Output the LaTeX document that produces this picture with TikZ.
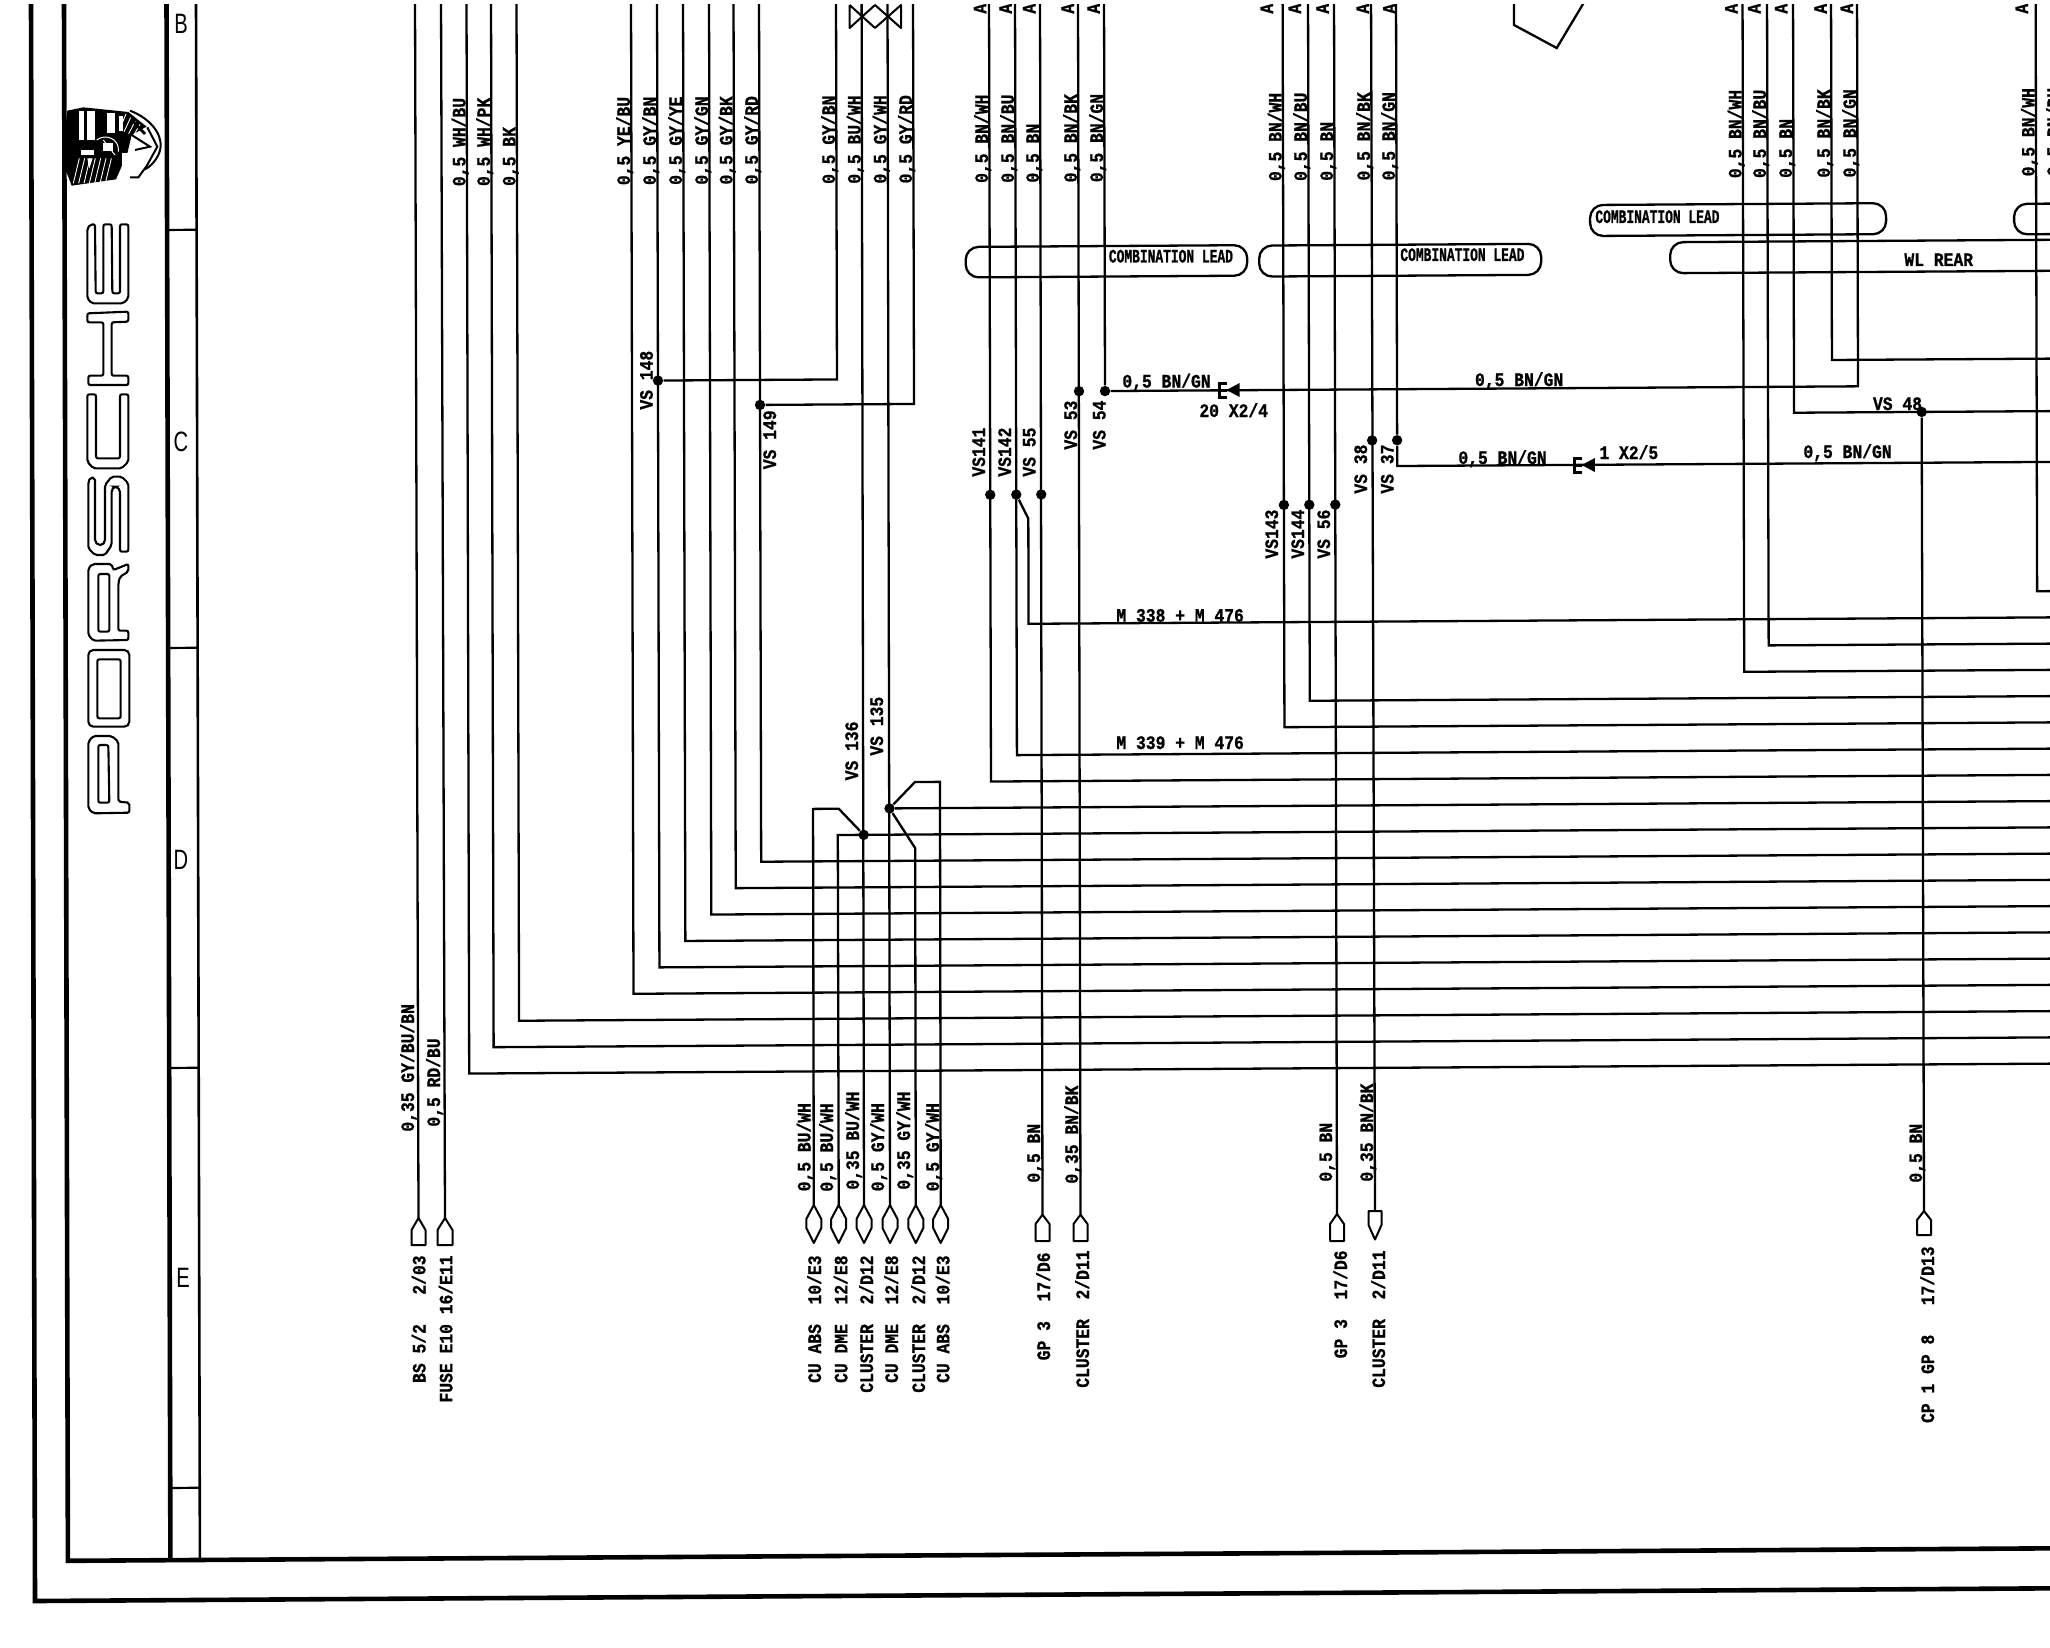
\documentclass[tikz,border=0pt]{standalone}
\usepackage{fontspec}
\usepackage{graphicx}
\setmainfont{Liberation Sans}
\newfontfamily\wf[FakeStretch=0.86,FakeBold=0.9]{Liberation Mono}
\newfontfamily\wn[FakeStretch=0.68,FakeBold=0.9]{Liberation Mono}
\newcounter{lb}
\tikzset{
  real/.style={x=0.5pt,y=-0.5pt},
  zoomed/.style={x=0.16667pt,y=-0.16667pt},
  wire/.style={line width=1.15pt,line join=miter,black},
  thinw/.style={line width=1pt,line join=round,black},
  heavy/.style={line width=2.3pt,black},
  logo/.style={line width=1.05pt,rounded corners=1pt,black},
  wl/.style={rotate=90,anchor=base west,inner sep=0pt,font=\wf\bfseries\fontsize{9.5pt}{10pt}\selectfont},
  wle/.style={rotate=90,anchor=base east,inner sep=0pt,font=\wf\bfseries\fontsize{9.5pt}{10pt}\selectfont},
  hl/.style={anchor=base west,inner sep=0pt,font=\wf\bfseries\fontsize{9.5pt}{10pt}\selectfont},
  cl/.style={anchor=base west,inner sep=0pt,font=\wn\bfseries\fontsize{9.5pt}{10pt}\selectfont},
  dot/.style={circle,fill=black,draw=none,inner sep=0pt,minimum size=5.2pt},
  rowl/.style={inner sep=0pt,font=\fontsize{14pt}{14pt}\selectfont}
}
\newcommand{\WL}[2]{\stepcounter{lb}\node[wl] (w\the\value{lb}) at ({#1-1.5},189.5) {#2};}
\newcommand{\RV}[3]{\stepcounter{lb}\node[wl] (r\the\value{lb}) at (#1,#2) {#3};}
\newcommand{\RE}[3]{\stepcounter{lb}\node[wle] (e\the\value{lb}) at (#1,#2) {#3};}
\newcommand{\RH}[3]{\stepcounter{lb}\node[hl] (h\the\value{lb}) at (#1,#2) {#3};}
\newcommand{\AM}[1]{\stepcounter{lb}\node[wl] (a\the\value{lb}) at ({#1+6},14) {A};}
% bus wire: from the top, turning right at height #3
\newcommand{\BUS}[3]{\coordinate (t#1) at (#2,-10);\coordinate (c#1) at (#2,#3);\coordinate (x#1) at (2085,#3);\draw[wire] (t#1) -- (c#1) -- (x#1);}
% lens connector, wire runs into its top tip
\newcommand{\LENS}[1]{\draw[thinw] (#1,1205) -- ({#1+7.5},1219) -- ({#1+7.5},1228) -- (#1,1243) -- ({#1-7.5},1228) -- ({#1-7.5},1219) -- cycle;}
\newcommand{\PUP}[5]{\draw[thinw] (#1,#2) -- ({#1+#5},#3) -- ({#1+#5},#4) -- ({#1-#5},#4) -- ({#1-#5},#3) -- cycle;}
\newcommand{\PLUG}[2]{%
  \draw[line width=1.5pt] ({#1+8},{#2-7}) -- ({#1+1},{#2-7}) -- ({#1+1},{#2+7}) -- ({#1+8},{#2+7});
  \draw[line width=1.5pt] ({#1+1},#2) -- ({#1+8},#2);
  \fill[black] ({#1+8},#2) -- ({#1+21},{#2-7}) -- ({#1+21},{#2+7}) -- cycle;}
\newcommand{\LEADBOX}[4]{\draw[line width=1.15pt,rounded corners=6.5pt] (#1,#2) -- (#3,#2) -- (#3,#4) -- (#1,#4) -- cycle;}
\begin{document}
\begin{tikzpicture}[x={(0.5pt,0.00315pt)},y={(0.00125pt,-0.5pt)}]
\path[use as bounding box,real,fill=white] (0,0) rectangle (2050,1648);
\clip[real] (0,5) rectangle (2050,1648);

% ---- sheet frame
\coordinate (fo1) at (31,-10);\coordinate (fo2) at (31,1601.2);\coordinate (fo3) at (2085,1601.2);
\coordinate (fi1) at (64,-10);\coordinate (fi2) at (64,1561.2);\coordinate (fi3) at (2085,1561.2);
\coordinate (ca1) at (166.5,-10);\coordinate (ca2) at (166.5,1561.2);
\coordinate (cb1) at (196,-10);\coordinate (cb2) at (196,1561.2);
\draw[heavy] (fo1) -- (fo2) -- (fo3);
\draw[heavy] (fi1) -- (fi2) -- (fi3);
\draw[heavy] (ca1) -- (ca2);
\draw[line width=1.3pt] (cb1) -- (cb2);
\foreach \n/\y in {1/231,2/649,3/1069,4/1489}{
  \coordinate (da\n) at (166.5,\y);\coordinate (db\n) at (196,\y);
  \draw[line width=1.1pt] (da\n) -- (db\n);}
\begin{scope}[real]
\node[rowl] (rowB) at (181,24) {\scalebox{0.72}[1]{B}};
\node[rowl] (rowC) at (181,442) {\scalebox{0.72}[1]{C}};
\node[rowl] (rowD) at (181,860) {\scalebox{0.72}[1]{D}};
\node[rowl] (rowE) at (183,1278) {\scalebox{0.72}[1]{E}};
\end{scope}

% ---- PORSCHE lettering, S R O P
\begin{scope}[zoomed,shift={(35pt,-235pt)}]
\draw[logo] (55,35)--(62,22)--(75,24)--(75,215)--(85,225)--(97,225)--(105,215)--(105,45)--(125,20)--(155,20)--(175,40)--(175,245)--(150,245)--(150,60)--(140,50)--(132,50)--(125,60)--(125,225)--(105,255)--(75,255)--(55,235)--cycle;
\draw[logo] (55,295)--(68,282)--(125,282)--(130,300)--(175,282)--(175,305)--(150,320)--(145,340)--(145,482)--(175,482)--(175,510)--(70,512)--(55,495)--cycle;
\draw[logo] (85,312)--(118,312)--(118,485)--(85,485)--cycle;
\draw[logo,rounded corners=2.5pt] (55,540)--(178,540)--(178,770)--(55,770)--cycle;
\draw[logo] (82,568)--(152,568)--(152,745)--(82,745)--cycle;
\draw[logo] (55,815)--(70,798)--(125,798)--(145,815)--(145,995)--(178,998)--(178,1028)--(70,1030)--(55,1015)--cycle;
\draw[logo] (85,825)--(115,825)--(118,998)--(85,998)--cycle;
\end{scope}
% ---- PORSCHE lettering, E H C
\begin{scope}[zoomed,shift={(35pt,-107.5pt)}]
\draw[logo] (52,40)--(62,28)--(75,28)--(77,235)--(100,235)--(100,28)--(125,28)--(127,235)--(150,235)--(150,28)--(175,28)--(175,250)--(160,265)--(65,265)--(52,250)--cycle;
\draw[logo] (52,295)--(175,290)--(175,320)--(125,322)--(125,482)--(175,482)--(175,510)--(55,510)--(55,482)--(100,482)--(100,322)--(52,322)--cycle;
\draw[logo] (52,538)--(78,538)--(78,730)--(150,730)--(150,538)--(175,538)--(175,740)--(155,760)--(70,760)--(52,740)--cycle;
\end{scope}
% ---- crest
\begin{scope}[zoomed,shift={(25pt,-45pt)}]
\fill[black] (52,62)--(100,52)--(235,66)--(290,110)--(245,135)--(232,190)--(198,268)--(65,287)--(47,240)--(42,150)--cycle;
\fill[white] (88,62) rectangle (102,150);
\fill[white] (112,62) rectangle (134,150);
\fill[white] (170,70) rectangle (195,130);
\fill[white] (207,78) rectangle (220,122);
\fill[white] (92,180) rectangle (132,194);
\fill[white] (160,160) rectangle (190,182);
\fill[white] (217,190) rectangle (240,262);
\fill[white] (112,205) -- (128,205) -- (118,235) -- cycle;
\foreach \d in {0,16,...,96}{
  \draw[white,line width=0.45pt] ({70+\d},280) -- ({88+\d},205);}
\foreach \d in {0,14,...,56}{
  \draw[white,line width=0.45pt] ({228+\d},{72+0.75*\d}) -- ({208+\d},{120+0.4*\d});}
\draw[white,line width=0.5pt] (140,150) .. controls (165,130) and (210,145) .. (205,185);
\draw[white,line width=0.5pt] (160,150) -- (195,195);
\draw[line width=1pt] (240,62) .. controls (300,85) and (335,130) .. (332,170) .. controls (330,195) and (310,225) .. (285,238);
\draw[line width=1pt] (292,112) -- (322,170) -- (290,228) -- (265,262) -- (240,262);
\draw[line width=1pt] (245,135) -- (300,170) -- (255,180);
\draw[line width=1.4pt] (245,90) -- (285,132);
\end{scope}

% ---- wires that run from the top into the bus
\BUS{b1}{466.5}{1076.5}
\BUS{b2}{491}{1050.25}
\BUS{b3}{516.5}{1024}
\BUS{b4}{631}{997.75}
\BUS{b5}{657}{971.5}
\BUS{b6}{683}{945.25}
\BUS{b7}{709}{919}
\BUS{b8}{733.5}{892.75}
\BUS{b9}{759}{866.5}
\BUS{b11}{989}{787.75}
\BUS{b12}{1015}{761.5}
\BUS{b13}{1282.6}{735.25}
\BUS{b14}{1308}{709}
\BUS{b15}{1742.5}{682.75}
\BUS{b16}{1767}{656.5}
\BUS{b18}{2035.6}{604}
\BUS{b19}{1793}{424}
\BUS{b20}{1831}{371.5}

% ---- junctions
\node[dot] (vs148) at (657,384.7) {};
\node[dot] (vs149) at (759,409.7) {};
\node[dot] (vs135) at (887.5,814) {};
\node[dot] (vs136) at (861.6,840.25) {};
\node[dot] (vs141) at (989,501) {};
\node[dot] (vs142) at (1015,501) {};
\node[dot] (vs55) at (1040,501) {};
\node[dot] (vs53) at (1078,398) {};
\node[dot] (vs54) at (1104,398) {};
\node[dot] (vs143) at (1282.6,513) {};
\node[dot] (vs144) at (1308,513) {};
\node[dot] (vs56) at (1334,513) {};
\node[dot] (vs38) at (1371,449) {};
\node[dot] (vs37) at (1396,449) {};
\node[dot] (vs48) at (1920.6,424) {};

% ---- connector tips at the bottom
\begin{scope}[real]
\coordinate (k1) at (418.5,1218);\coordinate (k2) at (445,1218);
\coordinate (k3) at (813.8,1205);\coordinate (k4) at (838.7,1205);\coordinate (k5) at (864,1205);
\coordinate (k6) at (890,1205);\coordinate (k7) at (915.8,1205);\coordinate (k8) at (940.7,1205);
\coordinate (k9) at (1042.5,1214.6);\coordinate (k10) at (1080.5,1214.6);
\coordinate (k11) at (1337,1214);\coordinate (k12) at (1375,1211);\coordinate (k13) at (1924,1211);
\LENS{813.8}\LENS{838.7}\LENS{864}\LENS{890}\LENS{915.8}\LENS{940.7}
\PUP{418.5}{1218}{1230}{1245}{7}
\PUP{445}{1218}{1230}{1245}{7.5}
\PUP{1042.5}{1214.6}{1224}{1241}{7}
\PUP{1080.5}{1214.6}{1224}{1241}{7}
\PUP{1337}{1214}{1224}{1241}{7}
\PUP{1924}{1211}{1220}{1235}{7}
\draw[thinw] (1368.5,1211) -- (1381.5,1211) -- (1381.5,1225) -- (1375,1239.5) -- (1368.5,1225) -- cycle;
\PLUG{1218.6}{390}
\PLUG{1573.8}{465}
\end{scope}

% ---- straight wires ending at the bottom
\foreach \n/\x in {1/415,2/441,6/887.5,5/861.6,9/1040,10/1078,11/1334,12/1371}{
  \coordinate (s\n) at (\x,-10);
  \draw[wire] (s\n) -- (k\n);}
% VS 148, VS 149 feeders
\coordinate (u1) at (836,-10);\coordinate (u1c) at (836,384.7);
\draw[wire] (u1) -- (u1c) -- (vs148);
\coordinate (u2) at (913,-10);\coordinate (u2c) at (913,409.7);
\draw[wire] (u2) -- (u2c) -- (vs149);
% VS 54 to BN/GN
\coordinate (u3) at (1104,-10);\coordinate (u4) at (1857,-10);\coordinate (u4c) at (1857,398);
\draw[wire] (u3) -- (vs54);
\draw[wire] (vs54) -- (u4c) -- (u4);
% VS 37
\coordinate (u5) at (1396,-10);\coordinate (u5c) at (1396,474.8);\coordinate (u5x) at (2085,474.8);
\draw[wire] (u5) -- (vs37) -- (u5c) -- (u5x);
% VS 48 drop
\draw[wire] (vs48) -- (k13);
% VS 55 jog
\coordinate (j1) at (1027,525);\coordinate (j2) at (1027,630.25);\coordinate (j3) at (2085,630.25);
\draw[wire] (vs142) -- (j1) -- (j2) -- (j3);
% VS 135 fan
\coordinate (j4) at (913,787.75);\coordinate (j5) at (938,787.75);
\draw[wire] (vs135) -- (j4) -- (j5) -- (k8);
\coordinate (j6) at (913,853.8);
\draw[wire] (vs135) -- (j6) -- (k7);
\coordinate (j7) at (2085,814);
\draw[wire] (vs135) -- (j7);
% VS 136 fan
\coordinate (j8) at (836.7,814);\coordinate (j9) at (811,814);
\draw[wire] (vs136) -- (j8) -- (j9) -- (k3);
\coordinate (j10) at (835.7,840.25);\coordinate (j11) at (2085,840.25);
\draw[wire] (k4) -- (j10) -- (j11);

% ---- crossed marks at the top
\begin{scope}[real]
\coordinate (m1) at (849.6,5);\coordinate (m2) at (849.6,28);\coordinate (m3) at (875,5);
\coordinate (m4) at (875,28);\coordinate (m5) at (901,5);\coordinate (m6) at (901,28);
\draw[thinw] (m1) -- (m2) -- (m3) -- (m6) -- (m5) -- (m4) -- (m1);
\coordinate (p1) at (1514,-5);\coordinate (p2) at (1514,25);\coordinate (p3) at (1556.7,48);\coordinate (p4) at (1588.4,-5);
\draw[wire] (p1) -- (p2) -- (p3) -- (p4);
\end{scope}

% ---- harness outlines
\LEADBOX{965}{253}{1246.5}{283.5}
\LEADBOX{1258.5}{253.5}{1540.5}{284.5}
\LEADBOX{1589.5}{215}{1885.5}{246}
\LEADBOX{1669.5}{252.7}{2100}{283.7}
\LEADBOX{2013.5}{216.5}{2140}{247}

% ---- wire labels at the top
\WL{466.5}{0,5 WH/BU}
\WL{491}{0,5 WH/PK}
\WL{516.5}{0,5 BK}
\WL{631}{0,5 YE/BU}
\WL{657}{0,5 GY/BN}
\WL{683}{0,5 GY/YE}
\WL{709}{0,5 GY/GN}
\WL{733.5}{0,5 GY/BK}
\WL{759}{0,5 GY/RD}
\WL{836}{0,5 GY/BN}
\WL{861.6}{0,5 BU/WH}
\WL{887.5}{0,5 GY/WH}
\WL{913}{0,5 GY/RD}
\WL{989}{0,5 BN/WH}
\WL{1015}{0,5 BN/BU}
\WL{1040}{0,5 BN}
\WL{1078}{0,5 BN/BK}
\WL{1104}{0,5 BN/GN}
\WL{1282.6}{0,5 BN/WH}
\WL{1308}{0,5 BN/BU}
\WL{1334}{0,5 BN}
\WL{1371}{0,5 BN/BK}
\WL{1396}{0,5 BN/GN}
\WL{1742.5}{0,5 BN/WH}
\WL{1767}{0,5 BN/BU}
\WL{1793}{0,5 BN}
\WL{1831}{0,5 BN/BK}
\WL{1857}{0,5 BN/GN}
\WL{2035.6}{0,5 BN/WH}
\WL{2061}{0,5 BN/BU}

\begin{scope}[real]
% clipped letters along the top edge
\AM{980.4}\AM{1005.8}\AM{1029.5}\AM{1068}\AM{1093.8}
\AM{1267}\AM{1295}\AM{1322.8}\AM{1363}\AM{1389.7}
\AM{1731.7}\AM{1754.5}\AM{1781.4}\AM{1820.8}\AM{1847}\AM{2022}

% harness names
\node[cl] (cl1) at (1108.5,262.5) {COMBINATION LEAD};
\node[cl] (cl2) at (1400,261) {COMBINATION LEAD};
\node[cl] (cl3) at (1595,223) {COMBINATION LEAD};
\node[hl] (wlrear) at (1904,266) {WL REAR};

% junction names
\RV{652.7}{410}{VS 148}
\RV{776}{469.6}{VS 149}
\RV{985}{477}{VS141}
\RV{1011}{477}{VS142}
\RV{1035.5}{477}{VS 55}
\RV{1077}{450}{VS 53}
\RV{1105.5}{450}{VS 54}
\RV{1278}{559}{VS143}
\RV{1304}{559}{VS144}
\RV{1330}{559}{VS 56}
\RV{1367}{494}{VS 38}
\RV{1393.5}{494}{VS 37}
\RV{883}{756}{VS 135}
\RV{858}{780.7}{VS 136}
\RH{1872.6}{410}{VS 48}

% horizontal labels
\RH{1122}{387.5}{0,5 BN/GN}
\RH{1474.6}{386}{0,5 BN/GN}
\RH{1458}{464}{0,5 BN/GN}
\RH{1803}{458}{0,5 BN/GN}
\RH{1199}{417}{20 X2/4}
\RH{1599}{459}{1 X2/5}
\RH{1116}{621.7}{M 338 + M 476}
\RH{1116}{749}{M 339 + M 476}

% wire labels at the bottom
\RV{414}{1132}{0,35 GY/BU/BN}
\RV{440}{1127}{0,5 RD/BU}
\RV{810.5}{1191.7}{0,5 BU/WH}
\RV{833}{1192}{0,5 BU/WH}
\RV{859}{1190}{0,35 BU/WH}
\RV{884}{1191.7}{0,5 GY/WH}
\RV{910}{1190}{0,35 GY/WH}
\RV{939}{1191.7}{0,5 GY/WH}
\RV{1040}{1183}{0,5 BN}
\RV{1078}{1184}{0,35 BN/BK}
\RV{1332}{1182}{0,5 BN}
\RV{1373}{1182}{0,35 BN/BK}
\RV{1922}{1183}{0,5 BN}

% connector references
\RE{425.5}{1255}{BS 5/2~~~2/03}
\RE{452.4}{1255}{FUSE E10 16/E11}
\RE{821}{1255}{CU ABS~~10/E3}
\RE{847.4}{1255}{CU DME~~12/E8}
\RE{873}{1255}{CLUSTER~~2/D12}
\RE{898}{1255}{CU DME~~12/E8}
\RE{925}{1255}{CLUSTER~~2/D12}
\RE{949.4}{1255}{CU ABS~~10/E3}
\RE{1050}{1252}{GP 3~~17/D6}
\RE{1089}{1250}{CLUSTER~~2/D11}
\RE{1347}{1250}{GP 3~~17/D6}
\RE{1385}{1250}{CLUSTER~~2/D11}
\RE{1934}{1246}{CP 1 GP 8~~~17/D13}
\end{scope}
\end{tikzpicture}
\end{document}
